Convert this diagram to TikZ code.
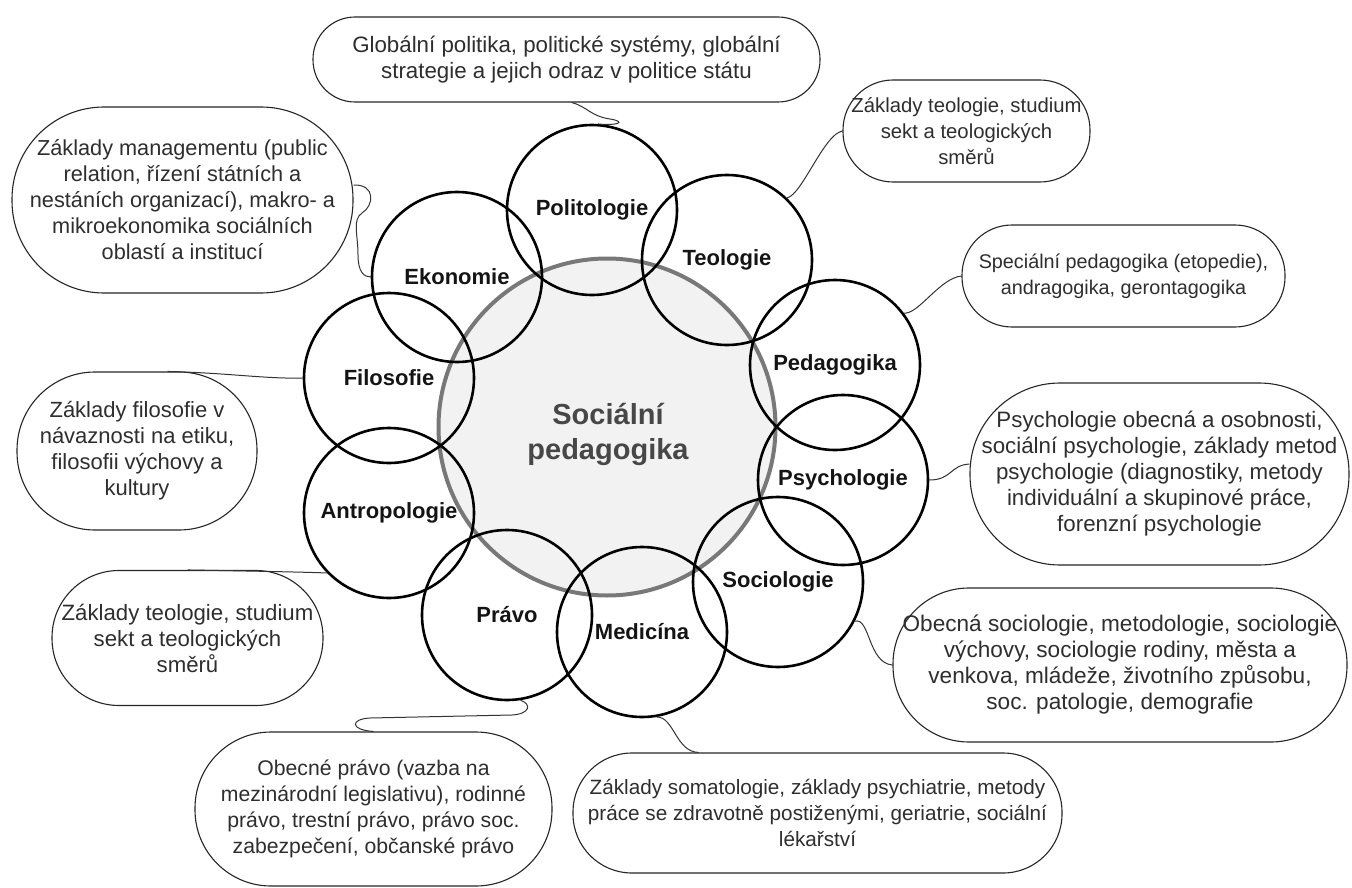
\documentclass[tikz,border=0pt]{standalone}
\usepackage{fontspec}
\setmainfont{Liberation Sans}
\begin{document}
\begin{tikzpicture}[x=1pt,y=-1pt,
  disc/.style={circle, draw=black, line width=2.6pt, minimum size=170pt, inner sep=0pt,
    font=\bfseries\fontsize{22}{26}\selectfont, text=black!92},
  note/.style={draw=black!85, line width=1.1pt, fill=white, align=center, inner sep=0pt,
    text=black!82, font=\fontsize{#1}{26}\selectfont},
  note/.default=22,
  link/.style={draw=black!80, line width=1pt}]
\useasboundingbox (0,0) rectangle (1352,888);

% core circle
\node[circle, minimum size=337pt, inner sep=0pt, fill=black!5, draw=black!53, line width=4pt] (core) at (607,427) {};
\node[font=\bfseries\fontsize{29}{35}\selectfont, text=black!72, align=center] (coretext) at (608,434) {Sociální\\pedagogika};

% disciplines
\node[disc] (poli) at (592,210) {Politologie};
\node[disc] (teol) at (727,260) {Teologie};
\node[disc] (peda) at (835,365) {Pedagogika};
\node[disc] (psy)  at (843,480) {Psychologie};
\node[disc] (soc)  at (778,582) {Sociologie};
\node[disc] (med)  at (642,632) {Medicína};
\node[disc] (pravo) at (507,615) {Právo};
\node[disc] (antr) at (389,513) {Antropologie};
\node[disc] (filo) at (389,378) {Filosofie};
\node[disc] (eko)  at (457,277) {Ekonomie};

% descriptions
\node[note=22.3, minimum width=507pt, minimum height=85pt, rounded corners=42pt] (globbox) at (566.5,59.5)
  {Globální politika, politické systémy, globální\\strategie a jejich odraz v politice státu};
\node[note=21.7, minimum width=341pt, minimum height=186pt, rounded corners=92pt] (mgmt) at (182.5,200)
  {Základy managementu (public\\relation, řízení státních a\\nestáních organizací), makro- a\\mikroekonomika sociálních\\oblastí a institucí};
\node[note=22, minimum width=240pt, minimum height=158pt, rounded corners=78pt] (filbox) at (137,451)
  {Základy filosofie v\\návaznosti na etiku,\\filosofii výchovy a\\kultury};
\node[note=22.2, minimum width=271pt, minimum height=135pt, rounded corners=67pt] (teolbox2) at (187.5,638)
  {Základy teologie, studium\\sekt a teologických\\směrů};
\node[note=21.2, minimum width=357pt, minimum height=154pt, rounded corners=76pt] (pravobox) at (373.5,809)
  {Obecné právo (vazba na\\mezinárodní legislativu), rodinné\\právo, trestní právo, právo soc.\\zabezpečení, občanské právo};
\node[note=20.7, minimum width=489pt, minimum height=120pt, rounded corners=59pt] (medbox) at (817.5,813)
  {Základy somatologie, základy psychiatrie, metody\\práce se zdravotně postiženými, geriatrie, sociální\\lékařství};
\node[note=22.6, minimum width=454pt, minimum height=154pt, rounded corners=76pt] (socbox) at (1120,665)
  {Obecná sociologie, metodologie, sociologie\\výchovy, sociologie rodiny, města a\\venkova, mládeže, životního způsobu,\\soc. patologie, demografie};
\node[note=22.3, minimum width=379pt, minimum height=182pt, rounded corners=90pt] (psybox) at (1159.5,474)
  {Psychologie obecná a osobnosti,\\sociální psychologie, základy metod\\psychologie (diagnostiky, metody\\individuální a skupinové práce,\\forenzní psychologie};
\node[note=19.8, minimum width=323pt, minimum height=102pt, rounded corners=50pt] (pedabox) at (1123.5,276)
  {Speciální pedagogika (etopedie),\\andragogika, gerontagogika};
\node[note=20.3, minimum width=247pt, minimum height=102pt, rounded corners=50pt] (teolbox) at (966.5,131)
  {Základy teologie, studium\\sekt a teologických\\směrů};

% connectors
\draw[link] (globbox.-83) .. controls (588,107) and (590,116) .. (610,119)
  .. controls (628,122) and (616,126) .. (poli.86);
\draw[link] (mgmt.5) .. controls (376,184) and (374,206) .. (362,213)
  .. controls (352,220) and (358,234) .. (358,255)
  .. controls (358,272) and (364,277) .. (eko.west);
\draw[link] (filbox.69) .. controls (230,373) and (265,379) .. (filo.west);
\draw[link] (teolbox2.north) .. controls (250,571) and (300,572) .. (antr.224);
\draw[link] (pravo.-81) .. controls (532,704) and (530,714) .. (512,715)
  -- (370,718) .. controls (350,719) and (350,730) .. (pravobox.north);
\draw[link] (med.-80) .. controls (674,717) and (676,752) .. (medbox.153.5);
\draw[link] (soc.-27) .. controls (870,617) and (868,663) .. (socbox.west);
\draw[link] (psy.east) .. controls (952,480) and (950,465) .. (psybox.177.3);
\draw[link] (peda.37) .. controls (918,315) and (940,278) .. (pedabox.west);
\draw[link] (teol.46) .. controls (802,195) and (824,134) .. (teolbox.west);
\end{tikzpicture}
\end{document}
